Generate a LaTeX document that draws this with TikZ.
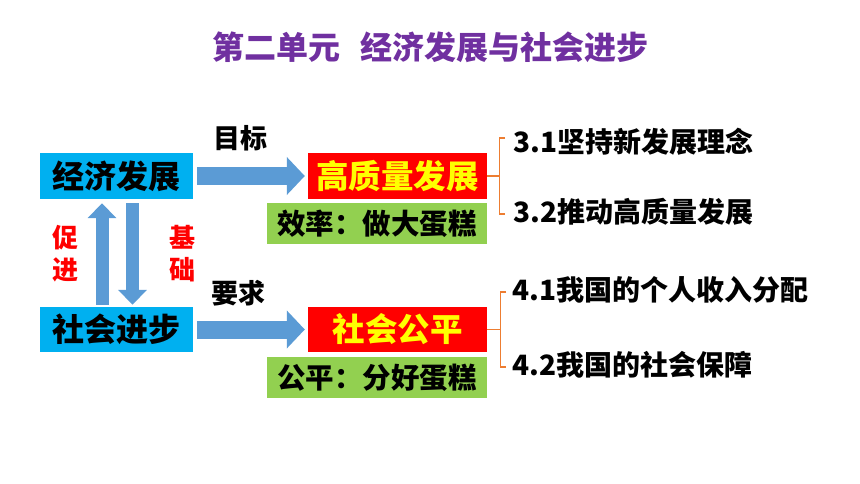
\documentclass[tikz,border=0pt]{standalone}
\usepackage{fontspec}
\setmainfont{Noto Sans CJK SC}
\usetikzlibrary{arrows.meta,calc}
\definecolor{cyanbox}{HTML}{00B0F0}
\definecolor{redbox}{HTML}{FF0000}
\definecolor{greenbox}{HTML}{92D050}
\definecolor{arrowblue}{HTML}{5B9BD5}
\definecolor{brorange}{HTML}{ED7D31}
\definecolor{titlepurple}{HTML}{7030A0}
\definecolor{yellowtext}{HTML}{FFFF00}
\tikzset{
  fs/.style={font=\fontsize{#1}{#1}\selectfont\bfseries},
  bluebox/.style={fill=cyanbox, minimum width=153pt, minimum height=46pt, inner sep=0pt, fs=32},
  redrect/.style={fill=redbox, text=yellowtext, minimum width=179pt, minimum height=46pt, inner sep=0pt, fs=32.5},
  greenrect/.style={fill=greenbox, minimum width=220pt, minimum height=41pt, inner sep=0pt, fs=28.5},
  hblock/.style={draw=arrowblue, line width=18pt, -{Triangle[length=18pt,width=37pt]}},
  vblock/.style={draw=arrowblue, line width=13pt, -{Triangle[length=15pt,width=28pt]}},
  lbl/.style={inner sep=0pt, fs=27},
  redlbl/.style={inner sep=0pt, text=redbox, fs=26, align=center},
  item/.style={anchor=west, inner sep=0pt, fs=28},
  bracket/.style={draw=brorange, line width=1.3pt}
}
\begin{document}
\begin{tikzpicture}[x=1pt,y=-1pt]
\useasboundingbox (0,0) rectangle (860,484);
% title
\node[text=titlepurple, fs=32, inner sep=0pt] (title) at (430,47) {第二单元\hspace{20pt}经济发展与社会进步};
% left boxes
\node[bluebox] (eco) at (116.5,176) {经济发展};
\node[bluebox, minimum height=45pt] (soc) at (116.5,329.5) {社会进步};
% right boxes
\node[redrect] (gq) at (397.5,176) {高质量发展};
\node[greenrect] (eff) at (377,223.5) {效率：做大蛋糕};
\node[redrect, minimum height=45pt] (sf) at (397.5,329.5) {社会公平};
\node[greenrect] (fair) at (377,377.5) {公平：分好蛋糕};
% labels
\node[lbl] (goal) at (240,138) {目标};
\node[lbl] (req) at (238,293) {要求};
\node[redlbl] (promote) at (65,254) {促\\[6pt]进};
\node[redlbl] (basis) at (182,254) {基\\[6pt]础};
% block arrows
\draw[hblock] ($(eco.east)+(4,0)$) -- ($(gq.west)+(-3,0)$);
\draw[hblock] ($(soc.east)+(4,0)$) -- ($(sf.west)+(-3,0)$);
\draw[vblock] ($(soc.north)+(-14.5,-2)$) -- ($(eco.south)+(-14.5,4)$);
\draw[vblock] ($(eco.south)+(16,4)$) -- ($(soc.north)+(16,-2)$);
% items
\node[item] (t31) at (513,142) {3.1坚持新发展理念};
\node[item] (t32) at (513,212) {3.2推动高质量发展};
\node[item] (t41) at (512,290) {4.1我国的个人收入分配};
\node[item] (t42) at (512,365) {4.2我国的社会保障};
% brackets
\coordinate (b1) at ($(gq.east)+(12,0)$);
\draw[bracket] (gq.east) -- (b1);
\draw[bracket] ($(t31.west)+(-8,-4)$) -| (b1) |- ($(t32.west)+(-8,2)$);
\coordinate (b2) at ($(sf.east)+(13,0)$);
\draw[bracket] (sf.east) -- (b2);
\draw[bracket] ($(t41.west)+(-6,2)$) -| (b2) |- ($(t42.west)+(-6,2)$);
\end{tikzpicture}
\end{document}
